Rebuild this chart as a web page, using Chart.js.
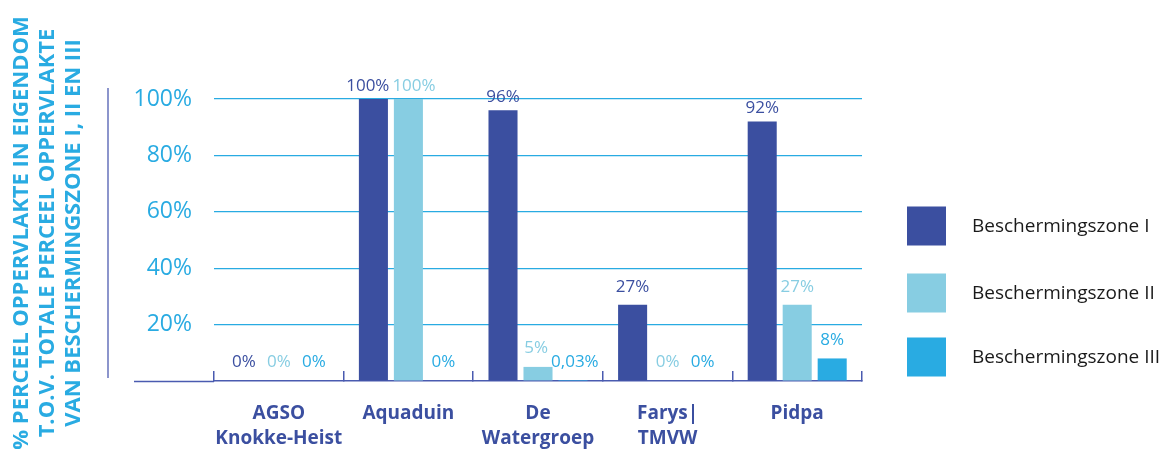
<!DOCTYPE html>
<html>
<head>
<meta charset="utf-8">
<script src="https://cdn.jsdelivr.net/npm/chart.js@4/dist/chart.umd.min.js"></script>
<style>
  html, body { margin: 0; padding: 0; background: #ffffff; }
  #wrap { width: 1169px; height: 452px; position: relative; }
</style>
</head>
<body>
<div id="wrap"><canvas id="c" width="1169" height="452"></canvas></div>
<script>
// ---- data ----
const categories = [["AGSO", "Knokke-Heist"], "Aquaduin", ["De", "Watergroep"], ["Farys|", "TMVW"], "Pidpa"];
const seriesNames = ["Beschermingszone I", "Beschermingszone II", "Beschermingszone III"];
const zoneI   = [0, 100, 96, 27, 92];
const zoneII  = [0, 100, 5, 0, 27];
const zoneIII = [0, 0, 0.03, 0, 8];
const yTickValues = [20, 40, 60, 80, 100];
const axisTitleLines = ["% PERCEEL OPPERVLAKTE IN EIGENDOM", "T.O.V. TOTALE PERCEEL OPPERVLAKTE", "VAN BESCHERMINGSZONE I, II EN III"];

const barColors = ["#3B4FA0", "#87CDE2", "#29ABE2"];
const FONT = "'Open Sans', 'DejaVu Sans', sans-serif";

function fmtPct(v) {
  return String(v).replace('.', ',') + '%';
}

const decorPlugin = {
  id: 'decor',
  beforeDraw(chart) {
    const ctx = chart.ctx;
    const area = chart.chartArea;
    ctx.save();
    // vertical decorative axis line
    ctx.strokeStyle = '#8C95CC';
    ctx.lineWidth = 2;
    ctx.beginPath();
    ctx.moveTo(108, area.top - 11);
    ctx.lineTo(108, area.bottom - 3);
    ctx.stroke();
    // baseline extension to the left
    ctx.strokeStyle = '#4A5BB0';
    ctx.lineWidth = 1.5;
    ctx.beginPath();
    ctx.moveTo(134, area.bottom + 0.5);
    ctx.lineTo(area.left, area.bottom + 0.5);
    ctx.stroke();
    ctx.restore();
  },
  afterDraw(chart) {
    const ctx = chart.ctx;
    ctx.save();
    // value labels (with simple overlap avoidance inside each category)
    ctx.font = "17px " + FONT;
    ctx.textAlign = 'center';
    ctx.textBaseline = 'middle';
    const nCat = chart.data.labels.length;
    for (let i = 0; i < nCat; i++) {
      const items = [];
      chart.data.datasets.forEach((ds, di) => {
        const el = chart.getDatasetMeta(di).data[i];
        const v = ds.data[i];
        const txt = fmtPct(v);
        items.push({ txt, x: el.x, y: el.y - (19 - 6 * v / 100), w: ctx.measureText(txt).width, color: barColors[di] });
      });
      for (let k = 0; k < items.length - 1; k++) {
        const a = items[k], b = items[k + 1];
        if (Math.abs(a.y - b.y) < 14) {
          const ov = (a.x + a.w / 2 + 3) - (b.x - b.w / 2);
          if (ov > 0) { a.x -= ov / 2; b.x += ov / 2; }
        }
      }
      items.forEach(it => { ctx.fillStyle = it.color; ctx.fillText(it.txt, it.x, it.y); });
    }
    // rotated axis title
    ctx.font = "bold 22px " + FONT;
    ctx.fillStyle = '#29ABE2';
    ctx.textAlign = 'center';
    ctx.textBaseline = 'middle';
    const titleX = [21.5, 47.5, 73.5];
    axisTitleLines.forEach((line, i) => {
      ctx.save();
      ctx.translate(titleX[i], 233);
      ctx.rotate(-Math.PI / 2);
      ctx.fillText(line, 0, 0);
      ctx.restore();
    });
    // legend
    const legendCenters = [226, 293, 357];
    ctx.font = "19px " + FONT;
    ctx.textAlign = 'left';
    chart.data.datasets.forEach((ds, di) => {
      const cy = legendCenters[di];
      ctx.fillStyle = ds.backgroundColor;
      ctx.fillRect(907, cy - 19.5, 39, 39);
      ctx.fillStyle = '#1A1A1A';
      ctx.fillText(ds.label, 972, cy + 1);
    });
    ctx.restore();
  }
};

const ctx = document.getElementById('c').getContext('2d');
new Chart(ctx, {
  type: 'bar',
  data: {
    labels: categories,
    datasets: [
      { label: seriesNames[0], data: zoneI, backgroundColor: barColors[0] },
      { label: seriesNames[1], data: zoneII, backgroundColor: barColors[1] },
      { label: seriesNames[2], data: zoneIII, backgroundColor: barColors[2] }
    ]
  },
  options: {
    responsive: false,
    animation: false,
    devicePixelRatio: 1,
    layout: { padding: { left: 0, right: 307, top: 99, bottom: 0 } },
    datasets: {
      bar: { categoryPercentage: 0.81, barPercentage: 0.83, borderWidth: 0 }
    },
    plugins: {
      legend: { display: false },
      tooltip: { enabled: false },
      title: { display: false }
    },
    scales: {
      x: {
        type: 'category',
        offset: true,
        grid: {
          offset: true,
          drawOnChartArea: false,
          drawTicks: true,
          tickLength: -10,
          color: '#4A5BB0',
          lineWidth: 1.5
        },
        border: { display: true, color: '#4A5BB0', width: 1.5 },
        ticks: {
          color: '#3B4FA0',
          font: { family: FONT, size: 19, weight: 'bold', lineHeight: '25px' },
          padding: 30,
          maxRotation: 0,
          autoSkip: false
        },
        afterFit(scale) { scale.height = 71; }
      },
      y: {
        min: 0,
        max: 100,
        afterBuildTicks(scale) {
          scale.ticks = [0].concat(yTickValues).map(v => ({ value: v }));
        },
        grid: {
          drawTicks: false,
          color: (c) => (c.tick && c.tick.value === 0) ? 'rgba(0,0,0,0)' : '#29ABE2',
          lineWidth: 1.2
        },
        border: { display: false },
        ticks: {
          color: '#29ABE2',
          font: { family: FONT, size: 23 },
          padding: 22,
          callback: (v) => v === 0 ? '' : v + '%'
        },
        afterFit(scale) { scale.width = 214; }
      }
    }
  },
  plugins: [decorPlugin]
});
</script>
</body>
</html>
